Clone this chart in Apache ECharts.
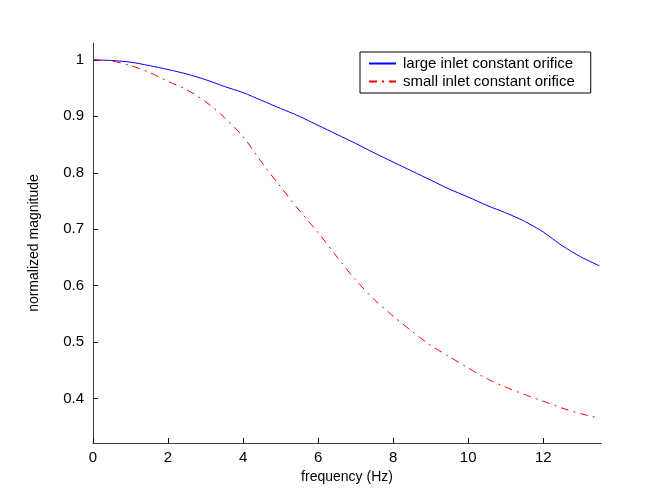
<!DOCTYPE html>
<html>
<head>
<meta charset="utf-8">
<script src="https://cdn.jsdelivr.net/npm/echarts@6/dist/echarts.min.js"></script>
<style>
html,body{margin:0;padding:0;background:#fff;}
#c{width:654px;height:491px;}
</style>
</head>
<body>
<div id="c"></div>
<script>
const freq = [0,0.5,1,1.5,2,2.5,3,3.5,4,4.5,5,5.5,6,6.5,7,7.5,8,8.5,9,9.5,10,10.5,11,11.5,12,12.5,13,13.5];
const largeInlet = [1.0,0.999,0.996,0.990,0.983,0.975,0.965,0.953,0.942,0.928,0.914,0.900,0.884,0.868,0.852,0.835,0.819,0.803,0.787,0.771,0.757,0.742,0.729,0.714,0.695,0.671,0.651,0.635];
const smallInlet = [1.0,0.998,0.990,0.978,0.962,0.947,0.926,0.898,0.864,0.818,0.775,0.733,0.694,0.651,0.610,0.575,0.546,0.519,0.494,0.474,0.454,0.435,0.420,0.407,0.395,0.383,0.373,0.365];
const yTicks = [0.4,0.5,0.6,0.7,0.8,0.9,1.0];
const xTicks = [0,2,4,6,8,10,12];
const seriesNames = ['large inlet constant orifice','small inlet constant orifice'];

const font = 'Liberation Sans, Arial, sans-serif';
const chart = echarts.init(document.getElementById('c'), null, {renderer:'canvas'});
chart.setOption({
  backgroundColor:'#fff',
  animation:false,
  grid:{left:93,right:53,top:43,bottom:48},
  legend:{
    orient:'vertical',
    left:360, top:52,
    padding:[4,16,4,8],
    itemGap:3,
    itemWidth:27, itemHeight:14,
    borderColor:'#000', borderWidth:1,
    backgroundColor:'#fff',
    itemStyle:{opacity:0},
    textStyle:{fontFamily:font,fontSize:15,color:'#000',padding:[0,0,0,2]},
    data:seriesNames
  },
  xAxis:{
    type:'value', min:0, max:13.54,
    name:'frequency (Hz)', nameLocation:'middle', nameGap:27,
    nameTextStyle:{fontFamily:font,fontSize:14,color:'#000'},
    axisLine:{show:true,lineStyle:{color:'#404040',width:1}},
    axisTick:{show:true,inside:true,length:5,customValues:xTicks,lineStyle:{color:'#000'}},
    axisLabel:{customValues:xTicks,fontFamily:font,fontSize:15,color:'#000',margin:7},
    splitLine:{show:false}
  },
  yAxis:{
    type:'value', min:0.321, max:1.03,
    name:'normalized magnitude', nameLocation:'middle', nameGap:52, nameRotate:90,
    nameTextStyle:{fontFamily:font,fontSize:14,color:'#000'},
    axisLine:{show:true,lineStyle:{color:'#404040',width:1}},
    axisTick:{show:true,inside:true,length:5,customValues:yTicks,lineStyle:{color:'#000'}},
    axisLabel:{customValues:yTicks,fontFamily:font,fontSize:15,color:'#000',margin:9,
      formatter:function(v){return (Math.round(v*10)/10).toString();}},
    splitLine:{show:false}
  },
  series:[
    {name:seriesNames[0],type:'line',symbol:'none',smooth:0.3,
     data:freq.map((x,i)=>[x,largeInlet[i]]),
     lineStyle:{color:'#0000ff',width:1},itemStyle:{color:'#0000ff'}},
    {name:seriesNames[1],type:'line',symbol:'none',smooth:0.3,
     data:freq.map((x,i)=>[x,smallInlet[i]]),
     lineStyle:{color:'#ff0000',width:1,type:[8,5,2,5]},itemStyle:{color:'#ff0000'}}
  ]
});
</script>
</body>
</html>
